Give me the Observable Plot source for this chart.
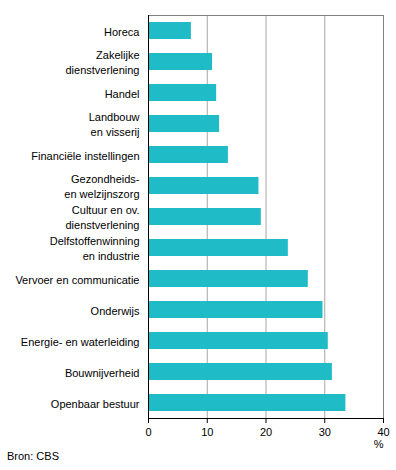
<!DOCTYPE html>
<html>
<head>
<meta charset="utf-8">
<script src="https://cdn.jsdelivr.net/npm/d3@7"></script>
<script src="https://cdn.jsdelivr.net/npm/@observablehq/plot@0.6"></script>
<style>
  body { margin: 0; background: #fff; font-family: "Liberation Sans", Arial, sans-serif; }
  #caption { font-size: 11px; line-height: 13px; padding-left: 7px; margin-top: 2px; color: #000; }
</style>
</head>
<body>
<div id="chart"></div>
<div id="caption">Bron: CBS</div>
<script>
const sectors = [
  "Horeca",
  "Zakelijke\ndienstverlening",
  "Handel",
  "Landbouw\nen visserij",
  "Financiële instellingen",
  "Gezondheids-\nen welzijnszorg",
  "Cultuur en ov.\ndienstverlening",
  "Delfstoffenwinning\nen industrie",
  "Vervoer en communicatie",
  "Onderwijs",
  "Energie- en waterleiding",
  "Bouwnijverheid",
  "Openbaar bestuur"
];
const values = [7.3, 10.9, 11.6, 12.1, 13.6, 18.8, 19.2, 23.8, 27.2, 29.7, 30.6, 31.3, 33.6];
const xTicks = [0, 10, 20, 30, 40];
const gridTicks = [10, 20, 30];
const unitLabel = ["%"];

const data = sectors.map((s, i) => ({sector: s, value: values[i]}));

const chart = Plot.plot({
  width: 396,
  height: 448,
  marginLeft: 148,
  marginRight: 13,
  marginTop: 15,
  marginBottom: 30,
  style: {fontFamily: "'Liberation Sans', Arial, sans-serif", fontSize: "11px", color: "#000", background: "#fff"},
  x: {domain: [0, 40]},
  y: {domain: sectors, paddingInner: 0.45, paddingOuter: 0.225},
  marks: [
    Plot.ruleX(gridTicks, {stroke: "#a6a6a6", strokeOpacity: 1}),
    Plot.ruleX([40], {stroke: "#808080", strokeOpacity: 1}),
    Plot.frame({anchor: "top", stroke: "#808080", strokeOpacity: 1}),
    Plot.barX(data, {x: "value", y: "sector", fill: "#1fbbc6"}),
    Plot.ruleX([0], {stroke: "#000", strokeOpacity: 1}),
    Plot.frame({anchor: "bottom", stroke: "#000", strokeOpacity: 1}),
    Plot.axisX({ticks: xTicks, tickSize: 5, tickPadding: 5, stroke: "#000", fill: "#000", fontSize: 11, label: null}),
    Plot.text(unitLabel, {frameAnchor: "bottom-right", textAnchor: "end", dy: 29, dx: 0, fontSize: 11, fill: "#000"}),
    Plot.axisY({tickSize: 0, tickPadding: 9, lineHeight: 1.35, fontSize: 11, fill: "#000", label: null})
  ]
});
document.getElementById("chart").appendChild(chart);
</script>
</body>
</html>
